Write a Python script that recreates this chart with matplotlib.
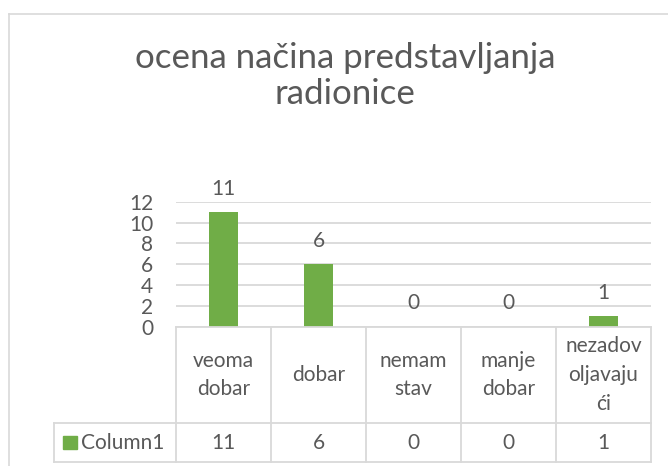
import numpy as np
import matplotlib
matplotlib.use('Agg')
import matplotlib.pyplot as plt
from matplotlib.lines import Line2D
from matplotlib.patches import Rectangle
from matplotlib import transforms

# ---- data ----
categories = ['veoma\ndobar', 'dobar', 'nemam\nstav', 'manje\ndobar', 'nezadov\noljavaju\nći']
values = [11, 6, 0, 0, 1]
series_name = 'Column1'
title_text = 'ocena načina predstavljanja\nradionice'
yticks = [0, 2, 4, 6, 8, 10, 12]

# ---- style ----
plt.rcParams['font.family'] = ['Lato', 'DejaVu Sans']
TXT = '#595959'
GRID = '#D9D9D9'
GREEN = '#70AD47'

W, H = 668, 466
fig = plt.figure(figsize=(W / 100, H / 100), dpi=100)


def fx(px):
    return px / W


def fy(py):
    return 1 - py / H


# chart area border (extends beyond the picture on right/bottom)
fig.add_artist(Line2D([fx(9), fx(9)], [fy(14), 0], transform=fig.transFigure, color=GRID, lw=1.2))
fig.add_artist(Line2D([fx(9), 1], [fy(14), fy(14)], transform=fig.transFigure, color=GRID, lw=1.2))

# plot area
left, right = 176, 651
top, bottom = 201.7, 326.7
ax = fig.add_axes([fx(left), fy(bottom), (right - left) / W, (bottom - top) / H])
n = len(values)
x = np.arange(n)
ax.bar(x, values, width=29 / 95, color=GREEN, zorder=3)
ax.set_xlim(-0.5, n - 0.5)
ax.set_ylim(0, 12)
ax.set_yticks(yticks)
ax.set_xticks([])
for s in ax.spines.values():
    s.set_visible(False)
ax.tick_params(axis='y', length=0, pad=16.5, labelsize=15, labelcolor=TXT)
ax.yaxis.grid(True, color=GRID, lw=1.3, zorder=0)
ax.set_axisbelow(True)
ax.patch.set_visible(False)

for xi, v in zip(x, values):
    ax.annotate(str(v), (xi, v), xytext=(0, 12.5), textcoords='offset points',
                ha='center', va='baseline', fontsize=15, color=TXT, annotation_clip=False)

# title
lines = title_text.split('\n')
baselines = [68, 104]
t0 = fig.text(fx(345), fy(baselines[0]), lines[0], ha='center', va='baseline',
              fontsize=20, color=TXT)
fig.canvas.draw()
wpx = t0.get_window_extent().width
fs_title = 20 * 422 / wpx
t0.set_fontsize(fs_title)
for ln, b in zip(lines[1:], baselines[1:]):
    fig.text(fx(345), fy(b), ln, ha='center', va='baseline', fontsize=fs_title, color=TXT)

# data table
bt = transforms.blended_transform_factory(ax.transData, fig.transFigure)
t_top, t_mid, t_bot = 327, 423, 462
for i in range(n + 1):
    fig.add_artist(Line2D([i - 0.5, i - 0.5], [fy(t_top), fy(t_bot)], transform=bt,
                          color=GRID, lw=1.3))
fig.add_artist(Line2D([-0.5, n - 0.5], [fy(t_top), fy(t_top)], transform=bt, color=GRID, lw=1.3))
for yy in (t_mid, t_bot):
    fig.add_artist(Line2D([fx(54), fx(right)], [fy(yy), fy(yy)], transform=fig.transFigure,
                          color=GRID, lw=1.3))
fig.add_artist(Line2D([fx(54), fx(54)], [fy(t_mid), fy(t_bot)], transform=fig.transFigure,
                      color=GRID, lw=1.3))

for xi, cat, v in zip(x, categories, values):
    fig.text(xi, fy((t_top + t_mid) / 2), cat, transform=bt, ha='center', va='center',
             fontsize=15, color=TXT, linespacing=1.55, multialignment='center')
    fig.text(xi, fy(443), str(v), transform=bt, ha='center', va='center',
             fontsize=15, color=TXT)

fig.add_artist(Rectangle((fx(63), fy(449)), 14 / W, 13 / H, transform=fig.transFigure,
                         color=GREEN))
fig.text(fx(81), fy(443), series_name, ha='left', va='center', fontsize=15, color=TXT)

fig.savefig('out.png', dpi=100)
